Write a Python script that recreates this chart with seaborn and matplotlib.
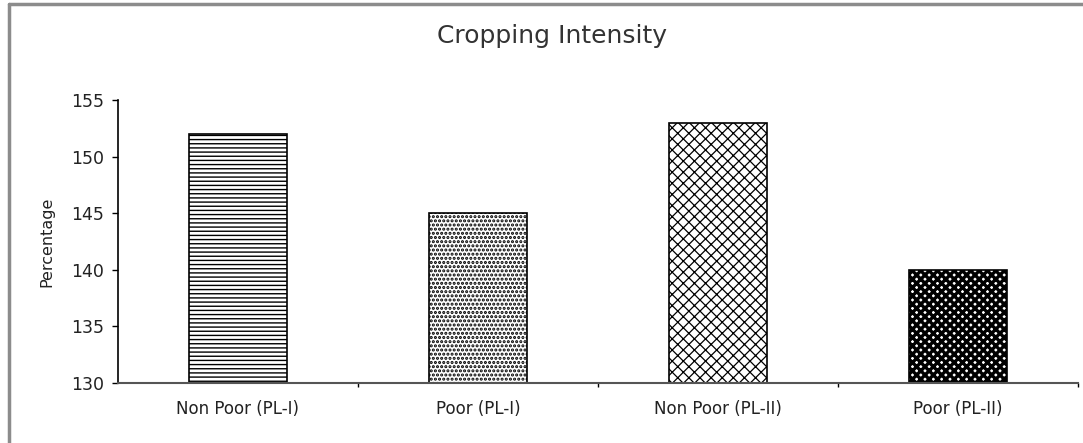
import matplotlib
matplotlib.use("Agg")
import matplotlib.pyplot as plt
import seaborn as sns
from matplotlib.lines import Line2D
from matplotlib.ticker import FixedLocator

categories = ["Non Poor (PL-I)", "Poor (PL-I)", "Non Poor (PL-II)", "Poor (PL-II)"]
values = [152, 145, 153, 140]
yticks = [130, 135, 140, 145, 150, 155]
hatches = ["----", "....", "xxx", "xxxx"]

sns.set_theme(style="white")
plt.rcParams["font.family"] = ["DejaVu Sans"]
plt.rcParams["hatch.linewidth"] = 1.0

fig = plt.figure(figsize=(10.83, 4.43), dpi=100)
ax = fig.add_axes([118 / 1083, 1 - 383 / 443, (1078 - 118) / 1083, (383 - 100) / 443])

sns.barplot(x=categories, y=values, color="white", edgecolor="black",
            linewidth=1.2, width=0.41, ax=ax, saturation=1)

for bar, h in zip(ax.patches, hatches):
    bar.set_hatch(h)
    bar.set_facecolor("white")
    bar.set_edgecolor("black")
if hasattr(ax.patches[3], "set_hatch_linewidth"):
    ax.patches[3].set_hatch_linewidth(2.4)
    ax.patches[1].set_hatch_linewidth(1.5)
    ax.patches[2].set_hatch_linewidth(0.9)

ax.set_ylim(130, 155)
ax.set_xlim(-0.5, 3.5)
ax.set_yticks(yticks)
ax.set_yticklabels([str(t) for t in yticks], fontsize=12.5, color="#222222")
ax.tick_params(axis="y", direction="out", length=4, width=1, color="black", pad=6, left=True)
ax.tick_params(axis="x", which="major", length=0, pad=12, labelsize=12, labelcolor="#222222")
ax.xaxis.set_minor_locator(FixedLocator([0.5, 1.5, 2.5, 3.5]))
ax.tick_params(axis="x", which="minor", direction="out", length=3, width=1, color="black", bottom=True)

for s in ["top", "right"]:
    ax.spines[s].set_visible(False)
ax.spines["left"].set_color("black")
ax.spines["left"].set_linewidth(1.2)
ax.spines["bottom"].set_color("#555555")
ax.spines["bottom"].set_linewidth(1.5)

ax.set_ylabel("Percentage", fontsize=11.5, labelpad=12, color="#222222")
ax.set_xlabel("")

fig.text(552 / 1083, 1 - 36 / 443, "Cropping Intensity", ha="center", va="center", fontsize=18, color="#333333")

# figure border (top and left)
fig.add_artist(Line2D([0.0085, 0.0085], [0, 0.99], transform=fig.transFigure, color="#8c8c8c", lw=2.5))
fig.add_artist(Line2D([0.0085, 1.0], [0.99, 0.99], transform=fig.transFigure, color="#8c8c8c", lw=2.5))

fig.savefig("out.png", dpi=100, facecolor="white")
